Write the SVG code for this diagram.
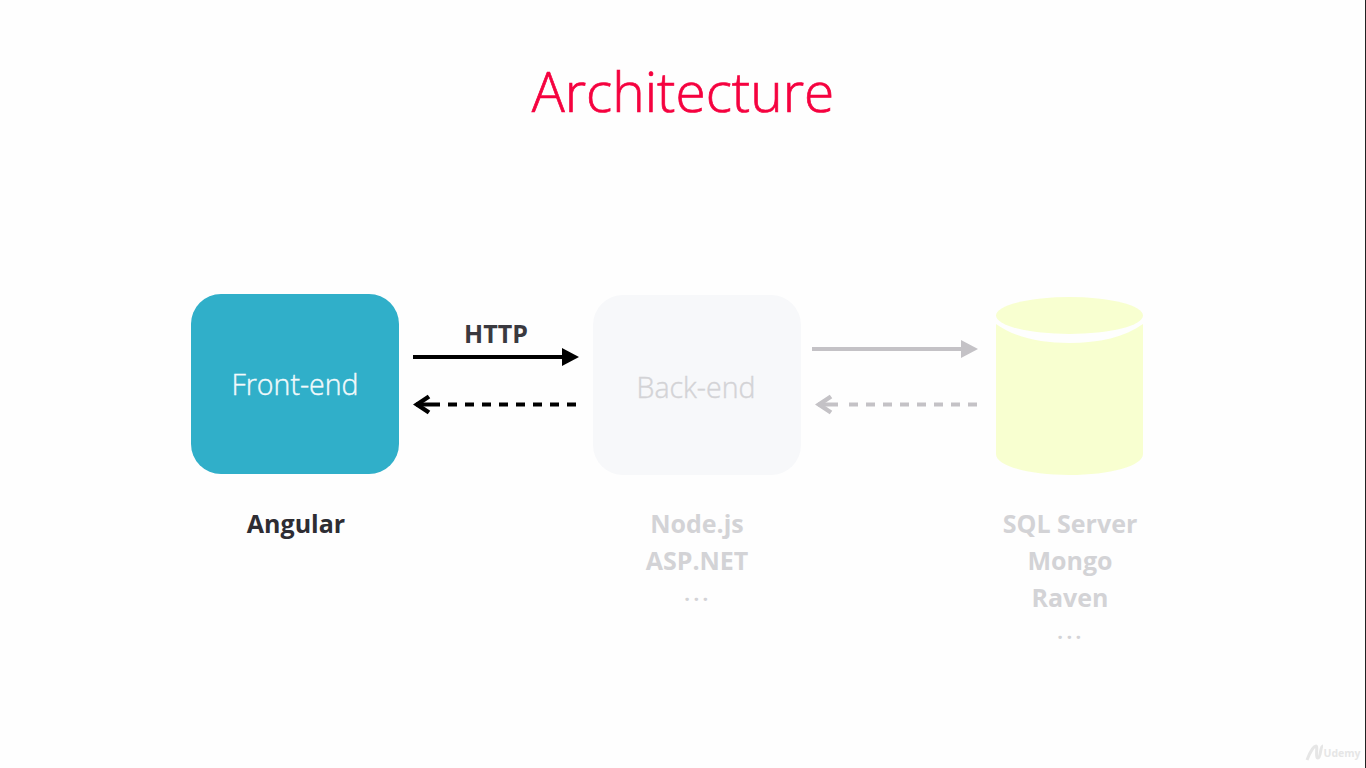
<svg xmlns="http://www.w3.org/2000/svg" width="1366" height="768" viewBox="0 0 1366 768">
<style>
text{font-family:"Open Sans","Noto Sans","Liberation Sans",sans-serif;text-anchor:middle}
.b{font-weight:700;font-size:25px}
.f{fill:#d3d3d6}
.d{font-weight:700;font-size:20px;letter-spacing:3.500px;fill:#d3d3d6}
.c{fill:none;stroke-width:4}
</style>
<defs>
<marker id="k" markerUnits="userSpaceOnUse" markerWidth="20" markerHeight="22" refX="2" refY="11" orient="auto"><path d="M1 2L18 11L1 20Z" fill="#000"/></marker>
<marker id="g" markerUnits="userSpaceOnUse" markerWidth="20" markerHeight="22" refX="2" refY="11" orient="auto"><path d="M1 2L18 11L1 20Z" fill="#c4c2c6"/></marker>
<marker id="ko" markerUnits="userSpaceOnUse" markerWidth="20" markerHeight="24" refX="3" refY="12" orient="0"><path d="M16 4L4 12L16 20" fill="none" stroke="#000" stroke-width="4.500"/></marker>
<marker id="go" markerUnits="userSpaceOnUse" markerWidth="20" markerHeight="24" refX="3" refY="12" orient="0"><path d="M16 4L4 12L16 20" fill="none" stroke="#c4c2c6" stroke-width="4.500"/></marker>
</defs>
<rect width="1366" height="768" fill="#fefefe"/>
<rect x="1365" width="1" height="768" fill="#222"/>
<text x="683" y="112" font-size="55" fill="#f5023f" stroke="#f5023f" stroke-width="0.700" font-weight="300" id="title">Architecture</text>
<g id="connectors">
<path class="c" stroke="#000" d="M413 357H563" marker-end="url(#k)"/>
<path class="c" stroke="#000" d="M576 404.500H426" stroke-dasharray="9 8"/>
<path class="c" stroke="#000" d="M431 404.500H416" marker-end="url(#ko)"/>
<path class="c" stroke="#c4c2c6" d="M812 349H962" marker-end="url(#g)"/>
<path class="c" stroke="#c4c2c6" d="M977 404.500H845" stroke-dasharray="9 8"/>
<path class="c" stroke="#c4c2c6" d="M838 404.500H818" marker-end="url(#go)"/>
<text x="496" y="343" class="b" fill="#3a393f">HTTP</text>
</g>
<g id="frontend">
<rect x="191" y="294" width="208" height="180" rx="30" fill="#30afc9"/>
<text x="295" y="395" font-size="28.500" fill="#f2fafc" stroke="#f2fafc" stroke-width="0.400" font-weight="300">Front-end</text>
<text x="296" y="533" class="b" fill="#2e2d33">Angular</text>
</g>
<g id="backend">
<rect x="593" y="295" width="208" height="180" rx="30" fill="#f7f8fa"/>
<text x="696" y="398" font-size="28.500" fill="#d3d3d6" stroke="#d3d3d6" stroke-width="0.400" font-weight="300">Back-end</text>
<text x="697" y="533" class="b f">Node.js</text>
<text x="697" y="570" class="b f">ASP.NET</text>
<text x="698" y="601" class="d">...</text>
</g>
<g id="database">
<path d="M996 324C1014 337 1040 343 1069.500 343C1099 343 1125 337 1143 324V454C1143 466 1110 475 1069.500 475C1029 475 996 466 996 454Z" fill="#f8ffd0"/>
<ellipse cx="1069.500" cy="315.500" rx="73.500" ry="18.500" fill="#f8ffd0"/>
<text x="1070" y="533" class="b f">SQL Server</text>
<text x="1070" y="570" class="b f">Mongo</text>
<text x="1070" y="607" class="b f">Raven</text>
<text x="1071" y="639" class="d">...</text>
</g>
<g id="watermark">
<path d="M1307 760C1310 752 1314 746 1316 746C1318 746 1315 758 1318 758C1321 758 1320 746 1323 746" fill="none" stroke="#e6e6e6" stroke-width="3"/>
<text x="1342" y="757" font-size="10.500" font-weight="700" fill="#e6e6e6">Udemy</text>
</g>
</svg>
